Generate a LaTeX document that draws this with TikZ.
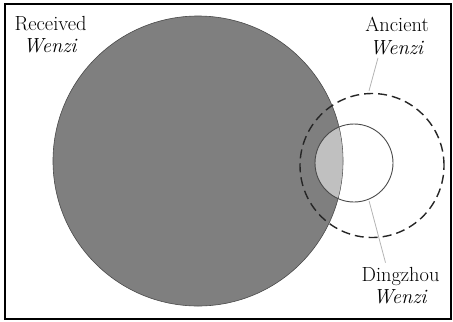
\documentclass[tikz,border=0pt]{standalone}
\usepackage{tikz}
\usetikzlibrary{positioning, calc}
\definecolor{recvgray}{HTML}{7F7F7F}
\definecolor{lensgray}{HTML}{C0C0C0}
\definecolor{leadgray}{HTML}{B4B4B4}
\definecolor{edgegray}{HTML}{4A4A4A}

\begin{document}
\begin{tikzpicture}[
  x=1bp, y=-1bp,
  ring/.style={circle, inner sep=0pt, outer sep=0pt},
  label/.style={align=center, inner sep=0pt, font=\fontsize{20.5}{23}\selectfont},
  leader/.style={draw=leadgray, line width=0.8bp}
]
  \useasboundingbox (0,0) rectangle (453,321);
  % circles
  \node[ring, fill=recvgray, draw=edgegray, line width=0.6bp, minimum size=290bp] (recv) at (198,161) {};
  \begin{scope}
    \clip (198,161) circle (144.7bp);
    \fill[lensgray] (354,163) circle (39bp);
  \end{scope}
  \node[ring, draw=edgegray, line width=0.9bp, minimum size=78bp] (dz) at (354,163) {};
  \node[ring, draw=black!85, line width=1.4bp, dash pattern=on 9bp off 5bp, minimum size=144bp] (anc) at (372,165.5) {};
  % labels
  \node[label] (recvlab) at (50.5,34.6) {Received\\\textit{Wenzi}};
  \node[label] (anclab) at (397,35.7) {Ancient\\\textit{Wenzi}};
  \node[label] (dzlab) at (400.5,285.6) {Dingzhou\\\textit{Wenzi}};
  \draw[leader, shorten >=3bp] ([xshift=-19bp, yshift=-3bp]anclab.south) -- (anc.93);
  \draw[leader, shorten <=2bp] (dz.-68) -- ([xshift=-15bp, yshift=4bp]dzlab.north);
  % frame
  \draw[line width=2bp] (5,4) rectangle (450.5,319);
\end{tikzpicture}
\end{document}
